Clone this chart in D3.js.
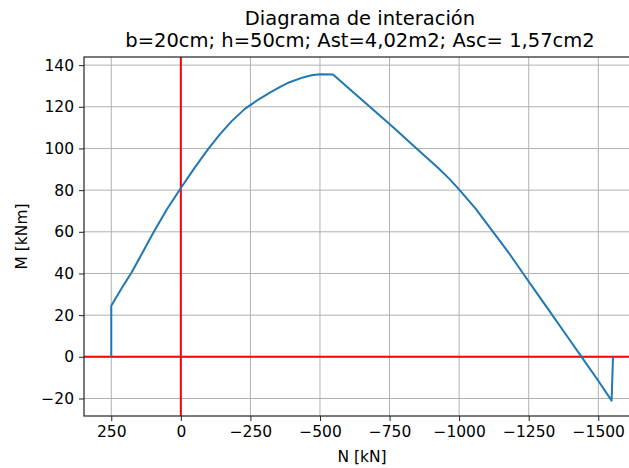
<!DOCTYPE html>
<html>
<head>
<meta charset="utf-8">
<script src="https://cdn.jsdelivr.net/npm/d3@7"></script>
<style>
  html, body { margin: 0; padding: 0; background: #fff; }
  svg text { font-family: "DejaVu Sans", sans-serif; fill: #000; }
</style>
</head>
<body>
<svg id="chart" width="629" height="468"></svg>
<script>
// Interaction diagram: axial force N [kN] vs bending moment M [kNm]
const axialN = [250, 250, 210, 177, 140, 99, 50, 0, -50, -98, -140, -182, -230, -280, -320,
  -360, -391, -439, -470, -500, -547, -600, -679, -760, -847, -925, -965, -1002, -1060, -1122,
  -1180, -1230, -1285, -1335, -1390, -1440, -1500, -1548, -1553];
const momentM = [0, 24.5, 33.5, 40.5, 49.5, 59.5, 70.8, 81, 90.8, 99.7, 106.8, 113, 119, 123.6, 126.8,
  129.8, 131.8, 134.1, 135.1, 135.6, 135.5, 129.3, 120, 110.5, 100, 90.6, 85.4, 80, 71, 60,
  49.6, 40, 29.5, 20, 9.5, 0, -11.5, -21, 0];

const xTicks = [250, 0, -250, -500, -750, -1000, -1250, -1500];
const yTicks = [-20, 0, 20, 40, 60, 80, 100, 120, 140];

const titleLines = ["Diagrama de interación", "b=20cm; h=50cm; Ast=4,02m2; Asc= 1,57cm2"];
const xLabel = "N [kN]";
const yLabel = "M [kNm]";

const svg = d3.select("#chart");
const plot = { left: 84, top: 57, right: 640, bottom: 416 };

// N axis runs from tension (positive, left) to compression (negative, right)
const x = d3.scaleLinear().domain([348, -1650]).range([plot.left, plot.right]);
const y = d3.scaleLinear().domain([-28.4, 143.9]).range([plot.bottom, plot.top]);

svg.append("defs").append("clipPath").attr("id", "clip")
  .append("rect")
  .attr("x", plot.left).attr("y", plot.top)
  .attr("width", plot.right - plot.left).attr("height", plot.bottom - plot.top);

// grid
const grid = svg.append("g");
grid.selectAll("line.gx").data(xTicks).join("line")
  .attr("x1", d => x(d)).attr("x2", d => x(d))
  .attr("y1", plot.top).attr("y2", plot.bottom)
  .attr("stroke", "#b0b0b0").attr("stroke-width", 1);
grid.selectAll("line.gy").data(yTicks).join("line")
  .attr("y1", d => y(d)).attr("y2", d => y(d))
  .attr("x1", plot.left).attr("x2", plot.right)
  .attr("stroke", "#b0b0b0").attr("stroke-width", 1);

const g = svg.append("g").attr("clip-path", "url(#clip)");

// reference axes N=0 and M=0
g.append("line")
  .attr("x1", x(0)).attr("x2", x(0)).attr("y1", plot.top).attr("y2", plot.bottom)
  .attr("stroke", "#ff0000").attr("stroke-width", 2);
g.append("line")
  .attr("y1", y(0)).attr("y2", y(0)).attr("x1", plot.left).attr("x2", plot.right)
  .attr("stroke", "#ff0000").attr("stroke-width", 2);

// interaction curve
const pts = axialN.map((n, i) => [n, momentM[i]]);
g.append("path")
  .datum(pts)
  .attr("fill", "none")
  .attr("stroke", "#1f77b4")
  .attr("stroke-width", 2)
  .attr("stroke-linejoin", "round")
  .attr("d", d3.line().x(d => x(d[0])).y(d => y(d[1])));

// axes
const fmt = d => (d < 0 ? "\u2212" + Math.abs(d) : String(d));
const xAxis = svg.append("g").attr("transform", `translate(0,${plot.bottom})`)
  .call(d3.axisBottom(x).tickValues(xTicks).tickFormat(fmt).tickSizeOuter(0).tickSize(5).tickPadding(5));
const yAxis = svg.append("g").attr("transform", `translate(${plot.left},0)`)
  .call(d3.axisLeft(y).tickValues(yTicks).tickFormat(fmt).tickSizeOuter(0).tickSize(5).tickPadding(5));
[xAxis, yAxis].forEach(a => {
  a.select(".domain").remove();
  a.selectAll(".tick line").attr("stroke", "#222").attr("stroke-width", 1);
  a.selectAll(".tick text").attr("font-size", 15.5).attr("font-family", "DejaVu Sans").attr("fill", "#000");
});

// spines
svg.append("rect")
  .attr("x", plot.left).attr("y", plot.top)
  .attr("width", plot.right - plot.left).attr("height", plot.bottom - plot.top)
  .attr("fill", "none").attr("stroke", "#222").attr("stroke-width", 1.2);

// labels
svg.append("text").attr("x", 362).attr("y", 462)
  .attr("text-anchor", "middle").attr("font-size", 15.5).text(xLabel);
svg.append("text")
  .attr("transform", `translate(27,${(plot.top + plot.bottom) / 2}) rotate(-90)`)
  .attr("text-anchor", "middle").attr("font-size", 15.5).text(yLabel);

const title = svg.append("text").attr("text-anchor", "middle").attr("font-size", 19.5);
titleLines.forEach((t, i) => {
  title.append("tspan").attr("x", 360).attr("y", 25 + i * 22).text(t);
});
</script>
</body>
</html>
